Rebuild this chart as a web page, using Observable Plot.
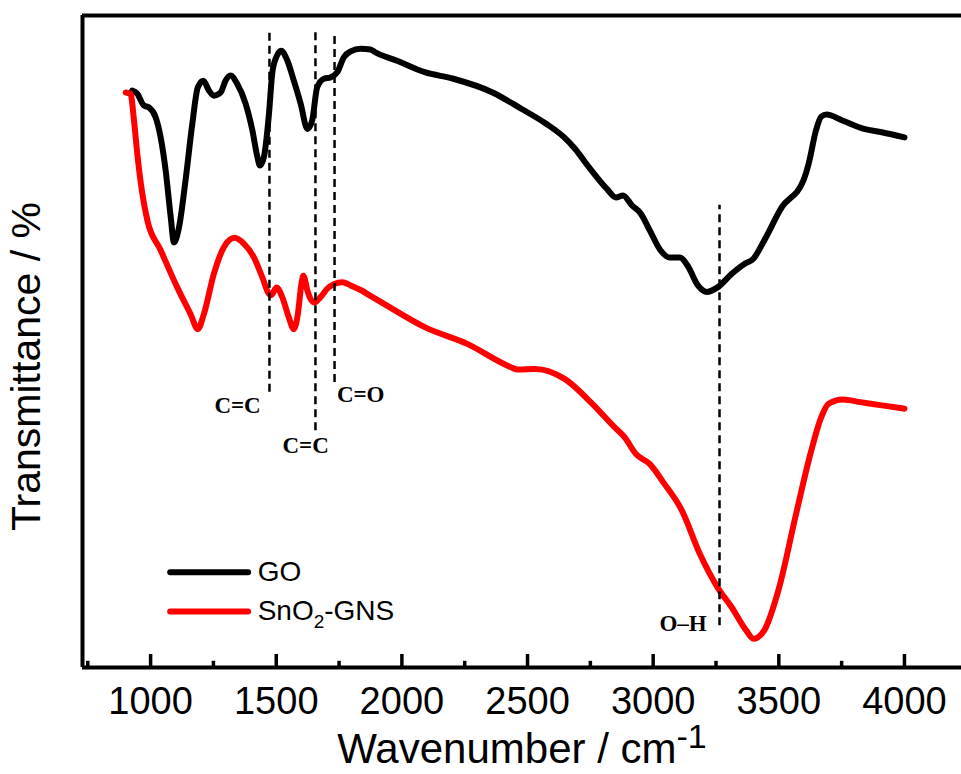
<!DOCTYPE html>
<html><head><meta charset="utf-8">
<script src="https://cdn.jsdelivr.net/npm/d3@7"></script>
<script src="https://cdn.jsdelivr.net/npm/@observablehq/plot@0.6"></script>
<style>html,body{margin:0;padding:0;background:#fff;} #chart svg{display:block;}</style>
</head><body><div id="chart"></div>
<script>
// GO spectrum
const goWavenumber = [927,947,973,993,1020,1040,1060,1080,1093,1113,1139,1166,1188,1210,1232,1252,1279,1298,1318,1345,1378,1405,1425,1435,1451,1471,1484,1500,1520,1544,1570,1597,1624,1643,1663,1690,1716,1743,1769,1796,1836,1875,1892,1978,2091,2205,2361,2475,2574,2646,2688,2745,2816,2852,2880,2915,2951,2987,3029,3065,3107,3136,3178,3214,3256,3313,3363,3399,3442,3512,3598,3619,3648,3669,3690,3753,3839,3910,4000];
const goTransmittance = [88.5,88.0,86.2,85.9,84.4,81.3,76.2,69.1,65.2,67.5,74.7,83.4,89.0,90.0,88.5,87.7,88.2,90.0,90.8,89.5,86.5,82.4,78.3,77.0,78.3,84.9,91.1,93.6,94.6,93.1,90.0,86.5,82.6,83.9,89.0,90.3,90.5,91.3,93.6,94.5,94.9,94.8,94.4,93.1,91.3,90.3,88.2,85.7,83.4,81.3,79.6,76.7,73.4,72.1,72.4,70.9,69.6,67.0,64.0,62.9,62.9,61.7,58.6,57.6,58.3,60.4,61.9,62.7,65.5,70.6,74.7,77.3,82.4,84.5,84.8,83.9,82.6,82.1,81.3];
// SnO2-GNS spectrum
const snWavenumber = [901,920,934,947,967,987,1040,1106,1159,1188,1212,1252,1292,1334,1371,1411,1444,1471,1480,1501,1524,1550,1570,1586,1600,1608,1624,1637,1653,1676,1703,1729,1763,1796,1836,1875,1949,2091,2262,2432,2461,2532,2646,2759,2845,2887,2930,2987,3044,3114,3186,3256,3313,3370,3399,3442,3498,3569,3626,3669,3697,3754,3825,3910,4000];
const snTransmittance = [88.2,88.0,83.9,78.8,72.7,68.6,64.0,58.3,54.2,51.9,54.2,60.4,64.5,65.9,65.0,62.9,59.9,57.3,57.1,58.3,56.8,53.7,51.9,54.2,58.8,60.1,57.8,56.5,56.0,56.8,58.1,58.8,59.1,58.6,57.9,57.0,55.3,52.2,49.6,46.1,45.7,45.8,44.3,40.4,36.9,35.3,32.8,31.2,28.2,24.1,17.4,12.3,9.2,5.7,4.4,5.7,11.8,23.6,32.8,38.4,40.4,41.1,40.7,40.2,39.7];

const majorTicks = [1000,1500,2000,2500,3000,3500,4000];
const minorTicks = [750,1250,1750,2250,2750,3250,3750];

// band markers
const bandPositions = [1473,1656,1732,3264];
const bandTop = [98.0,98.0,97.2,70.9];
const bandBottom = [42.2,36.3,43.7,6.4];
const bandLabels = ["C=C","C=C","C=O","O\u2013H"];
const bandLabelX = [1346,1617,1836,3119];
const bandLabelY = [40.1,34.0,41.9,6.7];

// legend
const seriesNames = ["GO","SnO2-GNS"];
const seriesColors = ["#000000","#ff0000"];
const legendY = [14.6,8.6];
const legendX1 = [1080,1080];
const legendX2 = [1390,1390];
const legendTextX = [1426,1426];

const xDomain = [729,4227];
const yDomain = [0,100];

const go = goWavenumber.map((x,i)=>({x, y: goTransmittance[i]}));
const sn = snWavenumber.map((x,i)=>({x, y: snTransmittance[i]}));
const bands = bandPositions.map((x,i)=>({x, y1: bandBottom[i], y2: bandTop[i], label: bandLabels[i], lx: bandLabelX[i], ly: bandLabelY[i]}));
const legend = seriesNames.map((name,i)=>({name, color: seriesColors[i], y: legendY[i], x1: legendX1[i], x2: legendX2[i], tx: legendTextX[i]}));
const majorT = majorTicks.map(x=>({x, y1: 0, y2: 2}));
const minorT = minorTicks.map(x=>({x, y1: 0, y2: 0.95}));
const frameBottomTop = yDomain.map(y=>({y}));
const frameLeft = [{x: xDomain[0]}];

const sans = "'Liberation Sans', Arial, Helvetica, sans-serif";
const serif = "'Liberation Serif', 'Times New Roman', serif";

const chart = Plot.plot({
  width: 961, height: 774,
  marginLeft: 82, marginRight: 0, marginTop: 15, marginBottom: 107,
  x: {domain: xDomain},
  y: {domain: yDomain, axis: null},
  style: {fontFamily: sans, background: "#fff", color: "#000", overflow: "visible"},
  marks: [
    Plot.line(go, {x: "x", y: "y", stroke: "#000000", strokeWidth: 6, curve: "monotone-x", strokeLinejoin: "round", strokeLinecap: "round"}),
    Plot.line(sn, {x: "x", y: "y", stroke: "#ff0000", strokeWidth: 6, curve: "monotone-x", strokeLinejoin: "round", strokeLinecap: "round"}),
    Plot.ruleX(bands, {x: "x", y1: "y1", y2: "y2", stroke: "#000", strokeWidth: 2.5, strokeDasharray: "8,5"}),
    Plot.text(bands, {x: "lx", y: "ly", text: "label", fontFamily: serif, fontWeight: "bold", fontSize: 23, fill: "#000"}),
    Plot.ruleY(frameBottomTop, {y: "y", stroke: "#000", strokeWidth: 4}),
    Plot.ruleX(frameLeft, {x: "x", stroke: "#000", strokeWidth: 4}),
    Plot.ruleX(majorT, {x: "x", y1: "y1", y2: "y2", stroke: "#000", strokeWidth: 3.5}),
    Plot.ruleX(minorT, {x: "x", y1: "y1", y2: "y2", stroke: "#000", strokeWidth: 3.5}),
    Plot.axisX({ticks: majorTicks, tickSize: 0, tickPadding: 20, fontSize: 38, tickFormat: d => String(d), label: null}),
    Plot.ruleY(legend, {y: "y", x1: "x1", x2: "x2", stroke: "color", strokeWidth: 6, strokeLinecap: "round"}),
    Plot.text(legend, {x: "tx", y: "y", text: "name", textAnchor: "start", fontSize: 28, fill: "#000"}),
    Plot.text(["Wavenumber / cm-1"], {frameAnchor: "bottom", lineAnchor: "bottom", textAnchor: "middle", dy: 95, fontSize: 42, fill: "#000"}),
    Plot.text(["Transmittance / %"], {frameAnchor: "left", rotate: -90, lineAnchor: "bottom", textAnchor: "middle", dx: -43, dy: 25, fontSize: 41, fill: "#000"})
  ]
});
document.getElementById("chart").appendChild(chart);

// superscript / subscript formatting
d3.select(chart).selectAll("text").each(function() {
  const t = this.textContent;
  const sel = d3.select(this);
  if (t === "Wavenumber / cm-1") {
    sel.text(null);
    sel.append("tspan").text("Wavenumber / cm");
    sel.append("tspan").attr("dy", -15).attr("font-size", 34).text("-1");
  } else if (t === "SnO2-GNS") {
    sel.text(null);
    sel.append("tspan").text("SnO");
    sel.append("tspan").attr("dy", 8).attr("font-size", 19).text("2");
    sel.append("tspan").attr("dy", -8).text("-GNS");
  }
});
</script>
</body></html>
